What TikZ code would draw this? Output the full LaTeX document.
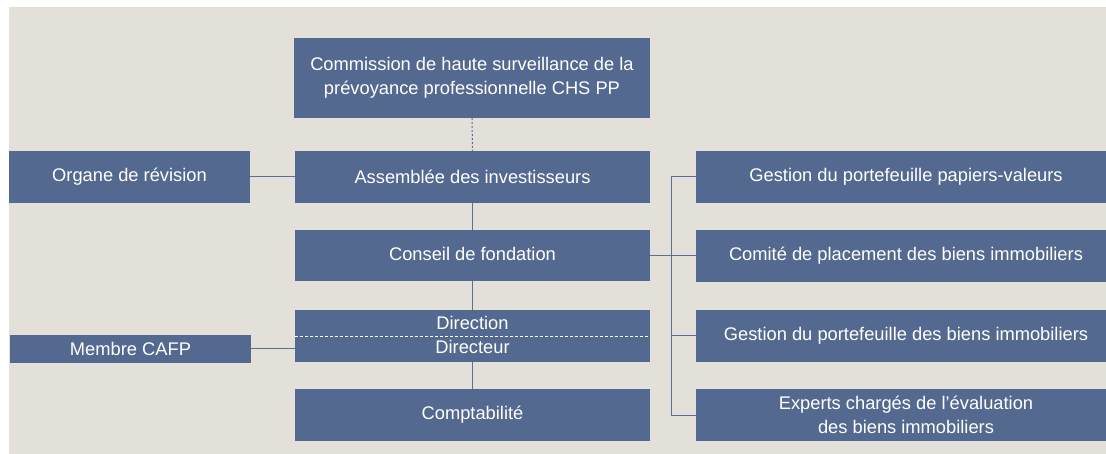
\documentclass[tikz,border=0pt]{standalone}
\usepackage{fontspec}
\setmainfont{Liberation Sans}
\definecolor{bg}{HTML}{E3DFD9}
\definecolor{boxc}{HTML}{54698F}
\definecolor{linec}{HTML}{5B6F94}
\begin{document}
\begin{tikzpicture}[x=1pt,y=-1pt,
  box/.style={fill=boxc, text=white, font=\fontsize{18.3}{24}\selectfont, inner sep=0pt, outer sep=0pt, draw=none, align=center},
  txt/.style={text=white, font=\fontsize{18.3}{24}\selectfont, inner sep=0pt},
  conn/.style={draw=linec, line width=1pt}]
\useasboundingbox (0,0) rectangle (1106,454);
\fill[bg] (9,7) rectangle (1106,454);
% central column
\node[box, minimum width=356, minimum height=80] (com) at (472,78) {Commission de haute surveillance de la\\prévoyance professionnelle CHS PP};
\node[box, minimum width=355, minimum height=52] (ass) at (472.5,177) {Assemblée des investisseurs};
\node[box, minimum width=355, minimum height=51] (con) at (472.5,256) {\raisebox{4pt}{Conseil de fondation}};
\node[box, minimum width=355, minimum height=52] (dir) at (472.5,336) {};
\node[txt] (dirA) at (472.5,323) {Direction};
\node[txt] (dirB) at (472.5,347) {Directeur};
\node[box, minimum width=355, minimum height=52] (cpt) at (472.5,415) {Comptabilité};
% left
\node[box, minimum width=241, minimum height=52] (org) at (129.5,177) {Organe de révision};
\node[box, minimum width=241, minimum height=28] (caf) at (130.5,349) {Membre CAFP};
% right
\node[box, minimum width=420, minimum height=52] (r1) at (906,177) {Gestion du portefeuille papiers-valeurs};
\node[box, minimum width=420, minimum height=52] (r2) at (906,256) {Comité de placement des biens immobiliers};
\node[box, minimum width=420, minimum height=52] (r3) at (906,336) {Gestion du portefeuille des biens immobiliers};
\node[box, minimum width=420, minimum height=52] (r4) at (906,415) {Experts chargés de l’évaluation\\des biens immobiliers};
% connectors
\draw[white, line width=0.8pt, dash pattern=on 3pt off 2pt] (dir.west) -- (dir.east);
\draw[conn, dash pattern=on 2pt off 2pt] (com.south) -- (ass.north);
\draw[conn] (ass.south) -- (con.north);
\draw[conn] (con.south) -- (dir.north);
\draw[conn] (dir.south) -- (cpt.north);
\draw[conn] (org.east) -- (ass.west);
\draw[conn] (caf.east) -- (caf.east -| dir.west);
\coordinate (tk) at (671,0);
\draw[conn] (con.east) -- (r2.west);
\draw[conn] (r1.west) -- (r1.west -| tk) -- (r4.west -| tk) -- (r4.west);
\draw[conn] (r3.west -| tk) -- (r3.west);
\end{tikzpicture}
\end{document}
